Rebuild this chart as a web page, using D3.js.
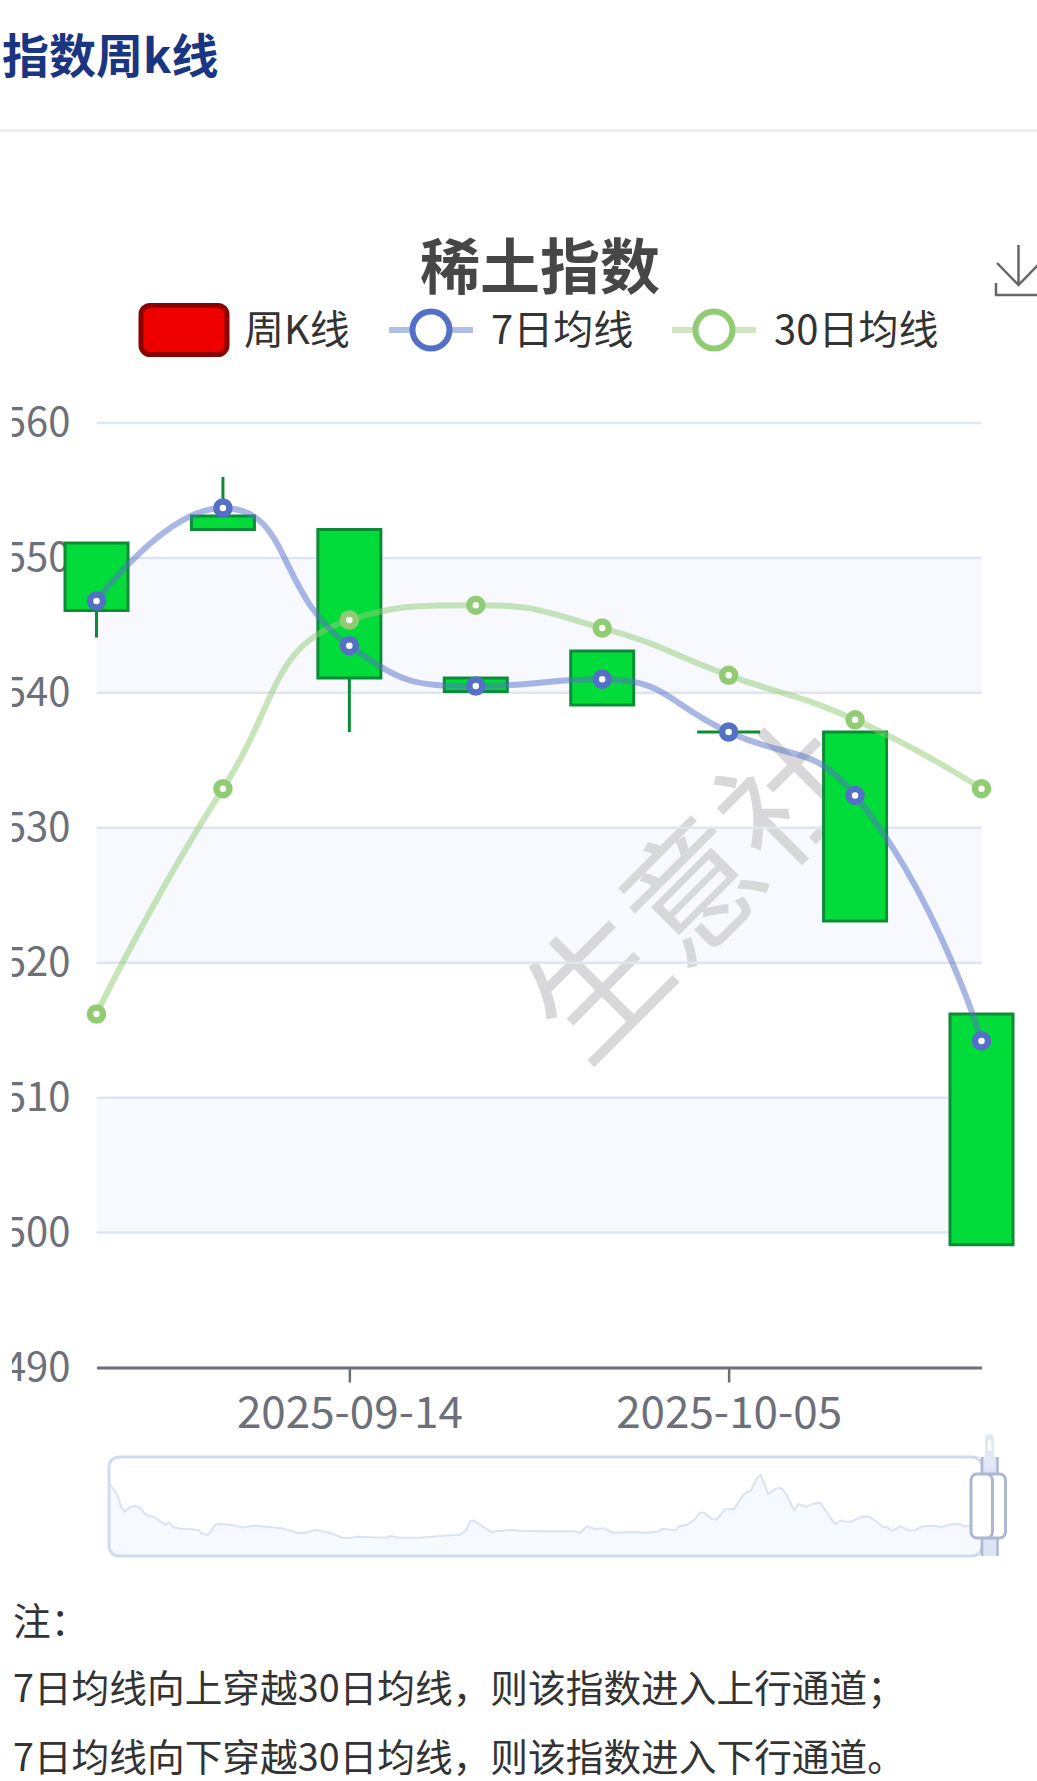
<!DOCTYPE html>
<html>
<head>
<meta charset="UTF-8">
<script src="https://d3js.org/d3.v7.min.js"></script>
<title>指数周k线</title>
<style>
	body{ margin: 0; background: #fff; }
	svg{ display: block; }
	text{ font-family: "Noto Sans CJK SC", sans-serif; }
</style>
</head>
<body>
<svg width="1037" height="1781"></svg>
<script>
	// Weekly candles
	var weeks = ["2025-08-31","2025-09-07","2025-09-14","2025-09-21","2025-09-28","2025-10-05","2025-10-12","2025-10-19"];
	var opens  = [551.1, 553.1, 552.1, 541.1, 543.1, 537.1, 537.1, 516.2];
	var closes = [546.1, 552.1, 541.1, 540.1, 539.1, 537.1, 523.1, 499.1];
	var lows   = [544.1, 552.1, 537.1, 540.1, 539.1, 537.1, 523.1, 499.1];
	var highs  = [551.1, 556.0, 552.1, 541.1, 543.1, 537.1, 537.1, 516.2];
	var ma7    = [546.8, 553.7, 543.5, 540.5, 541.0, 537.1, 532.4, 514.2];
	var ma30   = [516.2, 532.9, 545.4, 546.5, 544.8, 541.3, 538.0, 532.9];
	var xTicks = ["2025-09-14","2025-10-05"];
	var yTicks = [490,500,510,520,530,540,550,560];
	var notes  = ["注\uFF1A","7日均线向上穿越30日均线\uFF0C则该指数进入上行通道\uFF1B","7日均线向下穿越30日均线\uFF0C则该指数进入下行通道。"];

	// Overview strip in the slider (full history, scale is relative)
	var overviewT = [0,1.3,9.3,13.7,17,22,27,32,37,41.3,46,52,57.3,60.7,65.3,72,82,90.3,94.7,99.3,102,107,112,125.3,135.3,143.7,162,175.3,190.3,197,208,222,235.3,242,248.7,278.7,282,292,312,335.3,352,358,362,366,377,383.7,388.7,393.7,402,412,432,465.3,472,478.7,487,496,504.7,528.7,535.3,550.3,554.3,567,572,578.7,587,592,596,603.7,608.7,617,626,635.3,639.3,642.7,648.7,652.7,660.3,668.7,673.7,678.7,686.3,690.3,698,705.3,712,727,733.7,738.7,743.7,755.3,762,775.3,779.3,783.7,792,802,807,815.3,825.3,833.7,843.7,852,857,862,874];
	var overviewV = [74,72.7,61,47.7,44.3,49,50,48.3,42,39.7,39.3,35,31,33.7,29,27.3,27,25.7,22,21.3,23.3,31.3,32,30.7,28.3,30.3,29,27.3,23,23.3,26.3,23,18,18,19.3,18.3,20,18.3,18.3,20.3,21.3,25.3,34.3,35.3,28,23.7,25.3,25,26.3,25.3,24.7,24.7,23,29.7,26.7,27.7,23.3,24,23,24.3,27.3,25.7,30,31,36.7,43.3,43.3,37.3,36.3,46.7,46.7,61,64,65,77.7,81,62,67.7,67.7,61,45.3,52,49,52.3,53.3,32,35.7,34,34.7,39.7,38.7,29.3,28.7,25,29.7,25.3,26,29.7,30.3,29,32,31.7,29.3,30.7,30];

	var blue = "#5470c6", green = "#91cc75";
	var candleFill = "#02dc3b", candleStroke = "#0c8c36";
	var grey = "#6e7079", gridColor = "#e0e6f1", bandColor = "#f7f9fe";

	// Same control points as the smoothing the original line chart uses
	function smoothCurve(context){
		var pts = [];
		function clamp(v, a, b){ return Math.max(Math.min(a, b), Math.min(v, Math.max(a, b))); }
		return {
			lineStart: function(){ pts = []; },
			point: function(px, py){ pts.push([px, py]); },
			lineEnd: function(){
				var out = [], inn = [];
				pts.forEach(function(p, i){
					if(i == 0 || i == pts.length - 1){ out.push(p); inn.push(p); return; }
					var prev = pts[i-1], next = pts[i+1];
					var lenPrev = Math.hypot(p[0]-prev[0], p[1]-prev[1]);
					var lenNext = Math.hypot(next[0]-p[0], next[1]-p[1]);
					var ratio = lenNext / (lenNext + lenPrev);
					var vx = (next[0]-prev[0]) * 0.5, vy = (next[1]-prev[1]) * 0.5;
					var ox = clamp(p[0] + vx*ratio, p[0], next[0]);
					var oy = clamp(p[1] + vy*ratio, p[1], next[1]);
					var ix = clamp(p[0] - (ox-p[0])*lenPrev/lenNext, p[0], prev[0]);
					var iy = clamp(p[1] - (oy-p[1])*lenPrev/lenNext, p[1], prev[1]);
					ox = p[0] + (p[0]-ix)*lenNext/lenPrev;
					oy = p[1] + (p[1]-iy)*lenNext/lenPrev;
					out.push([ox, oy]); inn.push([ix, iy]);
				});
				context.moveTo(pts[0][0], pts[0][1]);
				for(var i = 0; i < pts.length - 1; i++){
					context.bezierCurveTo(out[i][0], out[i][1], inn[i+1][0], inn[i+1][1], pts[i+1][0], pts[i+1][1]);
				}
			}
		};
	}

	var svg = d3.select("svg");

	// Page header
	svg.append("text").text("指数周k线")
		.attr("x", 2).attr("y", 73)
		.attr("font-size", 47).attr("font-weight", 700).attr("fill", "#1a3682");
	svg.append("rect").attr("x", 0).attr("y", 129).attr("width", 1037).attr("height", 3).attr("fill", "#eeeef2");

	// Chart title
	svg.append("text").text("稀土指数")
		.attr("x", 540).attr("y", 289).attr("text-anchor", "middle")
		.attr("font-size", 60).attr("font-weight", 700).attr("fill", "#464646");

	// Save icon, cut off by the right edge
	svg.append("path")
		.attr("d", "M996 283V295H1040M1018.5 245V285M997 263L1018.5 285L1040 263")
		.attr("fill", "none").attr("stroke", "#666").attr("stroke-width", 2.5);

	// Legend
	svg.append("rect").attr("x", 141).attr("y", 305.5).attr("width", 86).attr("height", 49).attr("rx", 9)
		.attr("fill", "#ee0000").attr("stroke", "#8b0000").attr("stroke-width", 5);
	var legendItems = [
		{label: "周K线", x: 244},
		{label: "7日均线", x: 491, color: blue, x1: 389, x2: 473},
		{label: "30日均线", x: 774, color: green, x1: 672, x2: 756}
	];
	legendItems.forEach(function(d){
		if(d.color){
			svg.append("line").attr("x1", d.x1).attr("x2", d.x2).attr("y1", 330).attr("y2", 330)
				.attr("stroke", d.color).attr("stroke-width", 6).attr("stroke-opacity", 0.45);
			svg.append("circle").attr("cx", (d.x1+d.x2)/2).attr("cy", 330).attr("r", 18.5)
				.attr("fill", "#fff").attr("stroke", d.color).attr("stroke-width", 6);
		}
		svg.append("text").text(d.label).attr("x", d.x).attr("y", 344)
			.attr("font-size", 40).attr("fill", "#333");
	});

	// Scales
	var x = d3.scalePoint().domain(weeks).range([96.5, 981.5]);
	var y = d3.scaleLinear().domain([490, 560]).range([1367.5, 423]);

	// Alternating split areas
	var bandPairs = [[540,550],[520,530],[500,510]];
	svg.append("g").selectAll("rect").data(bandPairs).enter().append("rect")
		.attr("x", 96.5).attr("width", 885)
		.attr("y", function(d){ return y(d[1]); })
		.attr("height", function(d){ return y(d[0]) - y(d[1]); })
		.attr("fill", bandColor);

	// Watermark
	svg.append("text").text("生意社")
		.attr("text-anchor", "middle").attr("dominant-baseline", "central")
		.attr("transform", "translate(686,883) rotate(-45)")
		.attr("font-size", 135).attr("fill", "#d8d8da");

	// Grid
	svg.append("g").selectAll("line").data(yTicks.slice(1)).enter().append("line")
		.attr("x1", 96.5).attr("x2", 981.5)
		.attr("y1", function(d){ return y(d); }).attr("y2", function(d){ return y(d); })
		.attr("stroke", gridColor).attr("stroke-width", 2.5);

	// Y axis, labels are cut off on the left like in the original
	svg.append("clipPath").attr("id", "yClip").append("rect")
		.attr("x", 12).attr("y", 380).attr("width", 70).attr("height", 1020);
	var yAxis = svg.append("g")
		.attr("clip-path", "url(#yClip)")
		.append("g")
		.attr("transform", "translate(96.5,0)")
		.call(d3.axisLeft(y).tickValues(yTicks).tickSize(0).tickPadding(26));
	yAxis.select(".domain").remove();
	yAxis.selectAll("text").attr("font-size", 40).attr("fill", grey)
		.style("font-family", "'Noto Sans CJK SC', sans-serif");

	// X axis
	var xAxis = svg.append("g")
		.attr("transform", "translate(0,1367.5)")
		.call(d3.axisBottom(x).tickValues(xTicks).tickSizeInner(15).tickSizeOuter(0).tickPadding(14));
	xAxis.select(".domain").attr("stroke", grey).attr("stroke-width", 3);
	xAxis.selectAll("line").attr("stroke", grey).attr("stroke-width", 2.5);
	xAxis.selectAll("text").attr("font-size", 44).attr("fill", grey)
		.style("font-family", "'Noto Sans CJK SC', sans-serif");

	// Candles
	var candleWidth = 63;
	var candles = svg.append("g").selectAll("g").data(weeks).enter().append("g");
	candles.append("line")
		.attr("x1", function(d){ return x(d); }).attr("x2", function(d){ return x(d); })
		.attr("y1", function(d,i){ return y(highs[i]); })
		.attr("y2", function(d,i){ return y(lows[i]); })
		.attr("stroke", candleStroke).attr("stroke-width", 3);
	candles.append("path")
		.attr("d", function(d,i){
			var left = x(d) - candleWidth/2, right = x(d) + candleWidth/2;
			return "M" + left + " " + y(opens[i]) + "H" + right + "V" + y(closes[i]) + "H" + left + "Z";
		})
		.attr("fill", candleFill).attr("stroke", candleStroke).attr("stroke-width", 3);

	// Moving averages
	var line = d3.line()
		.x(function(d,i){ return x(weeks[i]); })
		.y(function(d){ return y(d); })
		.curve(smoothCurve);
	[{values: ma30, color: green}, {values: ma7, color: blue}].forEach(function(s){
		svg.append("path").attr("d", line(s.values))
			.attr("fill", "none").attr("stroke", s.color).attr("stroke-width", 6).attr("stroke-opacity", 0.5);
		svg.append("g").selectAll("circle").data(s.values).enter().append("circle")
			.attr("cx", function(d,i){ return x(weeks[i]); })
			.attr("cy", function(d){ return y(d); })
			.attr("r", 6.5)
			.attr("fill", "#fff").attr("stroke", s.color).attr("stroke-width", 6.5);
	});

	// Slider with overview of the whole history
	var tScale = d3.scaleLinear().domain([0, 874]).range([108, 982]);
	var vScale = d3.scaleLinear().domain([0, 99]).range([1556, 1457]);
	var overview = overviewT.map(function(t,i){ return [t, overviewV[i]]; });
	svg.append("path")
		.attr("d", d3.area().x(function(d){ return tScale(d[0]); }).y0(1556).y1(function(d){ return vScale(d[1]); })(overview))
		.attr("fill", "#f6f9ff");
	svg.append("path")
		.attr("d", d3.line().x(function(d){ return tScale(d[0]); }).y(function(d){ return vScale(d[1]); })(overview))
		.attr("fill", "none").attr("stroke", "#dbe2f1").attr("stroke-width", 2);
	svg.append("rect").attr("x", 109).attr("y", 1457).attr("width", 873).attr("height", 99).attr("rx", 10)
		.attr("fill", "none").attr("stroke", "#d2dbee").attr("stroke-width", 3);

	// Selected window and handles
	svg.append("rect").attr("x", 982).attr("y", 1457).attr("width", 15).attr("height", 99).attr("fill", "#dbe3f5");
	svg.append("rect").attr("x", 985).attr("y", 1434).attr("width", 9).attr("height", 36).attr("rx", 4.5).attr("fill", "#e2e8f6");
	svg.append("rect").attr("x", 988).attr("y", 1440).attr("width", 3.5).attr("height", 11).attr("rx", 1.7).attr("fill", "#fff");
	[982, 997.5].forEach(function(d){
		svg.append("line").attr("x1", d).attr("x2", d).attr("y1", 1457).attr("y2", 1556)
			.attr("stroke", "#acb8d1").attr("stroke-width", 2.5);
	});
	[[983, 1005.5], [971, 992.5]].forEach(function(d){
		svg.append("rect").attr("x", d[0]).attr("y", 1474).attr("width", d[1] - d[0]).attr("height", 64).attr("rx", 6)
			.attr("fill", "#fff").attr("stroke", "#acb8d1").attr("stroke-width", 3);
	});

	// Note under the chart
	var noteY = [1635, 1702, 1771];
	svg.append("g").selectAll("text").data(notes).enter().append("text")
		.text(function(d){ return d; })
		.attr("x", 13)
		.attr("y", function(d,i){ return noteY[i]; })
		.attr("font-size", 37.7).attr("fill", "#333");
</script>
</body>
</html>
